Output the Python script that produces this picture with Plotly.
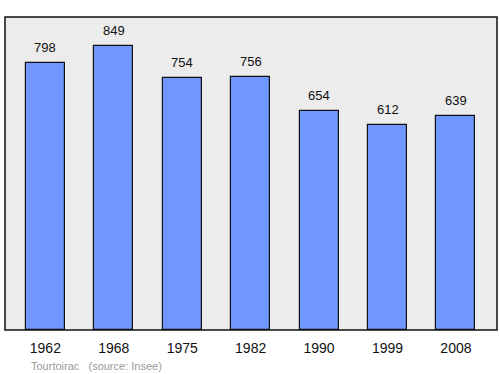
import plotly.graph_objects as go

years = ["1962", "1968", "1975", "1982", "1990", "1999", "2008"]
population = [798, 849, 754, 756, 654, 612, 639]
commune = "Tourtoirac"
source = "(source: Insee)"

xs = list(range(len(years)))

fig = go.Figure()
fig.add_trace(go.Bar(
    x=xs, y=population, width=0.57,
    marker=dict(color="#7097fd", line=dict(color="#111111", width=1.2)),
    hoverinfo="skip",
))

for x, v in zip(xs, population):
    fig.add_annotation(x=x, y=v, text=str(v), showarrow=False, yanchor="bottom",
                       yshift=6, font=dict(size=13, color="#111111", family="Liberation Sans, Arial"))

fig.add_annotation(xref="paper", yref="paper", x=0.049, y=-0.09, xanchor="left", yanchor="top",
                   text=commune + "&nbsp;&nbsp;&nbsp;" + source, showarrow=False,
                   font=dict(size=11, color="#9a9a9a", family="Liberation Sans, Arial"))

fig.add_shape(type="rect", xref="paper", yref="paper", x0=0, y0=0, x1=1, y1=1,
              line=dict(color="#111111", width=1.5), layer="above")

fig.update_layout(
    width=500, height=374,
    margin=dict(l=5, r=3, t=17, b=44),
    paper_bgcolor="white", plot_bgcolor="#ececec",
    showlegend=False, bargap=0,
    xaxis=dict(tickmode="array", tickvals=xs, ticktext=years, range=[-0.59, 6.6],
               showgrid=False, zeroline=False, ticks="outside", ticklen=5,
               tickcolor="rgba(0,0,0,0)",
               tickfont=dict(size=14, color="#111111", family="Liberation Sans, Arial")),
    yaxis=dict(range=[0, 936], showgrid=False, zeroline=False, showticklabels=False),
)

fig.write_html("out.html")
